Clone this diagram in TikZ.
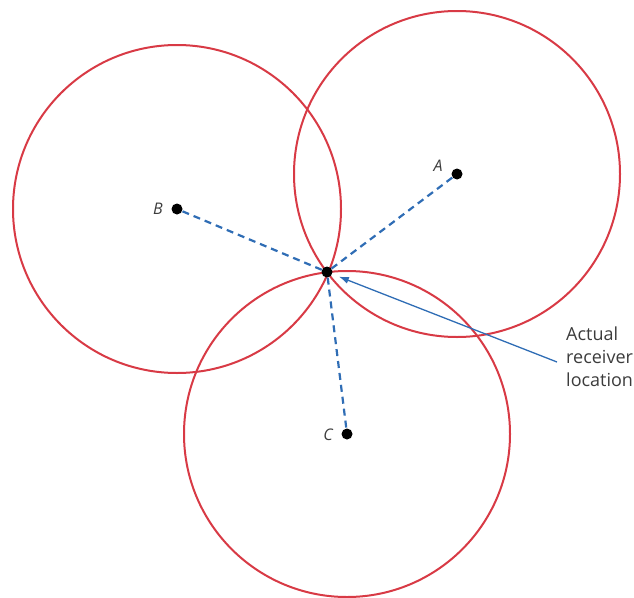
\documentclass[tikz,border=0pt]{standalone}
\usepackage{fontspec}
\setmainfont{Open Sans}
\usetikzlibrary{arrows.meta}
\definecolor{ringred}{HTML}{D83A45}
\definecolor{dashblue}{HTML}{2F6DB5}
\definecolor{txtgray}{HTML}{3C3C3C}
\tikzset{
  ring/.style={draw=ringred, line width=2pt},
  ray/.style={draw=dashblue, line width=2.2pt, dash pattern=on 7pt off 5pt},
  dot/.style={circle, fill=black, inner sep=0pt, minimum size=11pt},
  lbl/.style={text=txtgray, font=\fontsize{16}{18}\selectfont\itshape},
  note/.style={text=txtgray, font=\fontsize{18}{23}\selectfont, align=left, anchor=north west, inner sep=0pt},
  pointer/.style={draw=dashblue, line width=1.3pt, shorten >=7pt, -{Latex[length=10pt,width=7pt]}}
}
\begin{document}
\begin{tikzpicture}[x=1pt,y=-1pt]
\useasboundingbox (0,0) rectangle (634,597);
\draw[ring] (457,174) circle[radius=163];
\draw[ring] (177,209) circle[radius=164];
\draw[ring] (347,434) circle[radius=163];
\node[dot] (A) at (457,174) {};
\node[dot] (B) at (177,209) {};
\node[dot] (C) at (347,434) {};
\node[dot] (R) at (327,272) {};
\draw[ray] (R) -- (A);
\draw[ray] (R) -- (B);
\draw[ray] (R) -- (C);
\node[lbl] (la) at (438,166) {A};
\node[lbl] (lb) at (158,209) {B};
\node[lbl] (lc) at (328,435) {C};
\node[note] (txt) at (566,327) {Actual\\receiver\\location};
\coordinate (ps) at (557,362);
\draw[pointer] (ps) -- (R);
\end{tikzpicture}
\end{document}
